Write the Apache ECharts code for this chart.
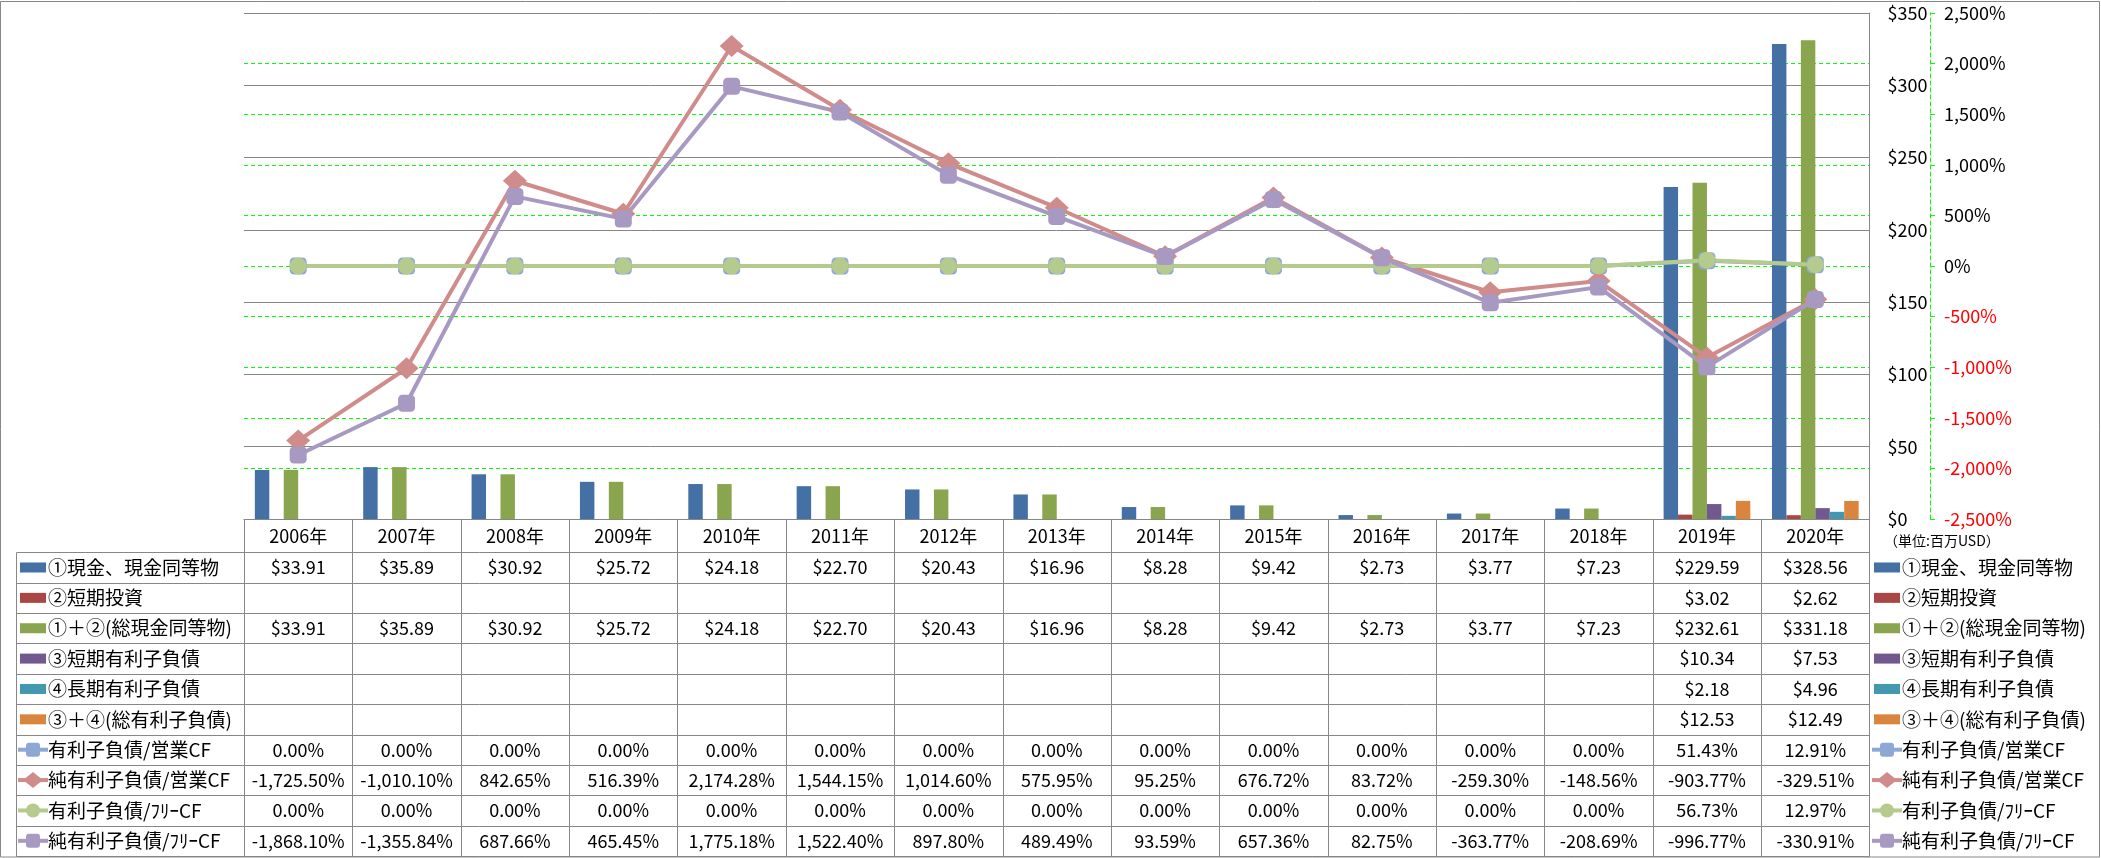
<!DOCTYPE html>
<html><head><meta charset="utf-8">
<script src="https://cdn.jsdelivr.net/npm/echarts@6/dist/echarts.min.js"></script>
<style>html,body{margin:0;padding:0;background:#fff}#c{width:2101px;height:858px}</style>
</head><body><div id="c"></div>
<script>
const years = ['2006年','2007年','2008年','2009年','2010年','2011年','2012年','2013年','2014年','2015年','2016年','2017年','2018年','2019年','2020年'];
const cash       = [33.91,35.89,30.92,25.72,24.18,22.70,20.43,16.96,8.28,9.42,2.73,3.77,7.23,229.59,328.56];
const shortInv   = [null,null,null,null,null,null,null,null,null,null,null,null,null,3.02,2.62];
const totalCash  = [33.91,35.89,30.92,25.72,24.18,22.70,20.43,16.96,8.28,9.42,2.73,3.77,7.23,232.61,331.18];
const shortDebt  = [null,null,null,null,null,null,null,null,null,null,null,null,null,10.34,7.53];
const longDebt   = [null,null,null,null,null,null,null,null,null,null,null,null,null,2.18,4.96];
const totalDebt  = [null,null,null,null,null,null,null,null,null,null,null,null,null,12.53,12.49];
const debtOpCF    = [0,0,0,0,0,0,0,0,0,0,0,0,0,51.43,12.91];
const netDebtOpCF = [-1725.50,-1010.10,842.65,516.39,2174.28,1544.15,1014.60,575.95,95.25,676.72,83.72,-259.30,-148.56,-903.77,-329.51];
const debtFCF     = [0,0,0,0,0,0,0,0,0,0,0,0,0,56.73,12.97];
const netDebtFCF  = [-1868.10,-1355.84,687.66,465.45,1775.18,1522.40,897.80,489.49,93.59,657.36,82.75,-363.77,-208.69,-996.77,-330.91];
const usdAxis = {min:0, max:350, interval:50};
const pctAxis = {min:-2500, max:2500, interval:500};
const unitLabel = '（単位:百万USD）';

const FONT = 'Noto Sans CJK JP';
const GRAY = '#878787';
const GREEN = '#00FF00';

const rows = [
  {name:'①現金、現金同等物', kind:'bar', color:'#4470A6', data:cash, fmt:'usd'},
  {name:'②短期投資', kind:'bar', color:'#AA4643', data:shortInv, fmt:'usd'},
  {name:'①＋②(総現金同等物)', kind:'bar', color:'#89A54E', data:totalCash, fmt:'usd'},
  {name:'③短期有利子負債', kind:'bar', color:'#71588F', data:shortDebt, fmt:'usd'},
  {name:'④長期有利子負債', kind:'bar', color:'#4198AF', data:longDebt, fmt:'usd'},
  {name:'③＋④(総有利子負債)', kind:'bar', color:'#DB843D', data:totalDebt, fmt:'usd'},
  {name:'有利子負債/営業CF', kind:'line', color:'#8EA8D6', symbol:'roundRect', data:debtOpCF, fmt:'pct'},
  {name:'純有利子負債/営業CF', kind:'line', color:'#D08C8A', symbol:'diamond', data:netDebtOpCF, fmt:'pct'},
  {name:'有利子負債/ﾌﾘｰCF', kind:'line', color:'#B5CA8D', symbol:'circle', data:debtFCF, fmt:'pct'},
  {name:'純有利子負債/ﾌﾘｰCF', kind:'line', color:'#A799C1', symbol:'roundRect', data:netDebtFCF, fmt:'pct'}
];

function fmtNum(v){ return v.toLocaleString('en-US',{minimumFractionDigits:2, maximumFractionDigits:2}); }
function fmtCell(v, f){ if (v === null || v === undefined) return ''; return f === 'usd' ? '$' + fmtNum(v) : fmtNum(v) + '%'; }

const series = rows.map(r => {
  if (r.kind === 'bar') {
    return {name:r.name, type:'bar', yAxisIndex:0, data:r.data, barGap:'0%', barCategoryGap:'20%',
      itemStyle:{color:r.color}, z:2, silent:true};
  }
  const size = r.symbol === 'diamond' ? [24,22] : 17;
  return {name:r.name, type:'line', yAxisIndex:1, data:r.data, symbol:r.symbol, symbolSize:size,
    showAllSymbol:true, lineStyle:{color:r.color, width:4}, itemStyle:{color:r.color, borderWidth:0},
    z:3, silent:true, animation:false};
});

const chart = echarts.init(document.getElementById('c'));
const option = {
  animation:false,
  backgroundColor:'#fff',
  textStyle:{fontFamily:FONT},
  grid:{left:244, right:231.5, top:13, bottom:339, containLabel:false, outerBoundsMode:'none'},
  xAxis:{type:'category', data:years, boundaryGap:true,
    axisLine:{show:true, lineStyle:{color:GRAY, width:1}}, axisTick:{show:false},
    axisLabel:{show:true, color:'#000', fontSize:18, fontFamily:FONT, margin:8, interval:0},
    splitLine:{show:false}},
  yAxis:[
    {type:'value', position:'right', min:usdAxis.min, max:usdAxis.max, interval:usdAxis.interval,
      axisLine:{show:true, lineStyle:{color:GRAY, width:1}}, axisTick:{show:false},
      axisLabel:{color:'#000', fontSize:18, fontFamily:FONT, margin:18, formatter:v => '$' + v},
      splitLine:{show:true, lineStyle:{color:GRAY, width:1}}, z:1},
    {type:'value', position:'right', offset:60.5, min:pctAxis.min, max:pctAxis.max, interval:pctAxis.interval,
      axisLine:{show:true, lineStyle:{color:GREEN, width:1, type:[4,3]}},
      axisTick:{show:true, inside:false, length:5, lineStyle:{color:GREEN, width:1}},
      axisLabel:{fontSize:18, fontFamily:FONT, margin:14,
        color:(v) => (Number(v) < 0 ? '#FF0000' : '#000'),
        formatter:v => v.toLocaleString('en-US') + '%'},
      splitLine:{show:true, showMinLine:false, showMaxLine:false, lineStyle:{color:GREEN, width:1, type:[4,3]}}, z:0}
  ],
  series:series
};
chart.setOption(option);

// Build the data table beneath the plot, aligned with the category axis
const c0 = chart.convertToPixel({xAxisIndex:0}, 0);
const c1 = chart.convertToPixel({xAxisIndex:0}, 1);
const cw = c1 - c0;
const colLeft = c0 - cw/2;
const colRight = colLeft + cw * years.length;
const yBase = chart.convertToPixel({yAxisIndex:0}, 0);
const tableTop = 552.3, rowH = 30.37, tableLeft = 16.5;
const tableBottom = tableTop + rowH * rows.length;
const g = [];
const ln = (x1,y1,x2,y2) => g.push({type:'line', silent:true, z:10,
  shape:{x1:x1,y1:y1,x2:x2,y2:y2}, style:{stroke:GRAY, lineWidth:1}});
// outer border
g.push({type:'rect', silent:true, z:0, shape:{x:0.5, y:1.5, width:2099, height:855.5},
  style:{fill:null, stroke:GRAY, lineWidth:1}});
for (let r = 0; r <= rows.length; r++) {
  const y = Math.round(tableTop + r*rowH) + 0.5;
  ln(tableLeft, y, colRight, y);
}
ln(tableLeft, Math.round(tableTop)+0.5, tableLeft, Math.round(tableBottom)+0.5);
for (let k = 0; k <= years.length; k++) {
  const x = Math.round(colLeft + k*cw) + 0.5;
  ln(x, yBase, x, Math.round(tableBottom)+0.5);
}
rows.forEach((r, i) => {
  const yc = tableTop + rowH*(i + 0.5);
  r.data.forEach((v, j) => {
    const t = fmtCell(v, r.fmt);
    if (!t) return;
    g.push({type:'text', silent:true, z:11, x:c0 + cw*j, y:yc,
      style:{text:t, fill:'#000', font:'18px "' + FONT + '"', align:'center', verticalAlign:'middle'}});
  });
  // legend keys: in-table (left) and right side
  [[20, 48], [1874, 1902]].forEach(([kx, tx]) => {
    if (r.kind === 'bar') {
      g.push({type:'rect', silent:true, z:11, shape:{x:kx, y:yc-5, width:26, height:10}, style:{fill:r.color}});
    } else {
      g.push({type:'line', silent:true, z:11, shape:{x1:kx-2, y1:yc, x2:kx+28, y2:yc},
        style:{stroke:r.color, lineWidth:4}});
      const cx = kx + 13;
      if (r.symbol === 'circle') {
        g.push({type:'circle', silent:true, z:12, shape:{cx:cx, cy:yc, r:7}, style:{fill:r.color}});
      } else if (r.symbol === 'diamond') {
        g.push({type:'polygon', silent:true, z:12, shape:{points:[[cx,yc-8],[cx+10,yc],[cx,yc+8],[cx-10,yc]]}, style:{fill:r.color}});
      } else {
        g.push({type:'rect', silent:true, z:12, shape:{x:cx-7, y:yc-7, width:14, height:14, r:3}, style:{fill:r.color}});
      }
    }
    g.push({type:'text', silent:true, z:11, x:tx, y:yc,
      style:{text:r.name, fill:'#000', font:'19px "' + FONT + '"', align:'left', verticalAlign:'middle'}});
  });
});
g.push({type:'text', silent:true, z:11, x:1884, y:541,
  style:{text:unitLabel, fill:'#000', font:'14px "' + FONT + '"', align:'left', verticalAlign:'middle'}});
chart.setOption({graphic:{elements:g}});
</script>
</body></html>
